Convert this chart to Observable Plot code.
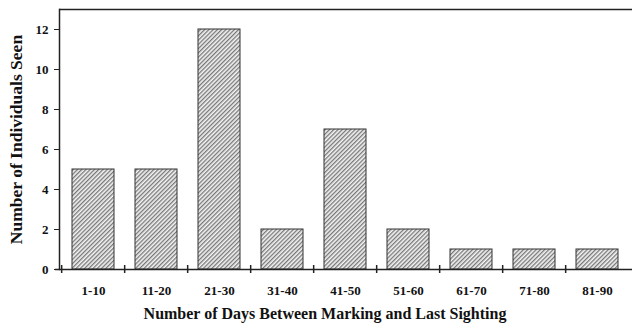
<!DOCTYPE html>
<html><head><meta charset="utf-8">
<script src="https://cdn.jsdelivr.net/npm/d3@7"></script>
<script src="https://cdn.jsdelivr.net/npm/@observablehq/plot@0.6"></script>
<style>body{margin:0;background:#fff}</style>
</head><body><div id="chart"></div>
<script>
const categories = ["1-10","11-20","21-30","31-40","41-50","51-60","61-70","71-80","81-90"];
const counts = [5,5,12,2,7,2,1,1,1];
const yTicks = [0,2,4,6,8,10,12];
const yTitle = "Number of Individuals Seen";
const xTitle = "Number of Days Between Marking and Last Sighting";

const data = categories.map((c,i)=>({cat:c, n:counts[i]}));
const W = 632, H = 324, ML = 59, MR = 0;
const step = (W - ML - MR) / categories.length;
const font = "'Liberation Serif', 'Times New Roman', serif";

const chart = Plot.plot({
  width: W, height: H,
  marginLeft: ML, marginRight: MR, marginTop: 9, marginBottom: 55,
  style: {fontFamily: font, color: "#111", background: "#fff"},
  x: {domain: categories, paddingInner: 0.33, paddingOuter: 0.165, axis: null},
  y: {domain: [0, 13], axis: null},
  marks: [
    Plot.barY(data, {x: "cat", y: "n", fill: "url(#hatch)", stroke: "#333", strokeWidth: 1}),
    Plot.ruleY([13], {stroke: "#222", strokeWidth: 1.5}),
    Plot.frame({anchor: "left", stroke: "#222", strokeWidth: 1.5}),
    Plot.ruleY([0], {stroke: "#222", strokeWidth: 1.5, insetLeft: -4}),
    Plot.ruleX(categories, {x: d => d, y1: 0, y2: 0, dx: -step/2, insetTop: -4, insetBottom: -4, stroke: "#222", strokeWidth: 1.5}),
    Plot.axisY(yTicks, {tickSize: 5, tickPadding: 6, fontSize: 13, fontWeight: "bold", label: null, stroke: "#222"}),
    Plot.axisX({tickSize: 0, tickPadding: 16, fontSize: 13, fontWeight: "bold", label: null}),
    Plot.text([yTitle], {frameAnchor: "left", textAnchor: "middle", lineAnchor: "middle", rotate: -90, dx: -43, fontSize: 17.5, fontWeight: "bold", text: d => d}),
    Plot.text([xTitle], {frameAnchor: "bottom", lineAnchor: "bottom", dy: 49, dx: -21, fontSize: 16, fontWeight: "bold", text: d => d})
  ]
});

const svg = d3.select(chart.tagName === "svg" ? chart : chart.querySelector("svg"));
const defs = svg.insert("defs", ":first-child");
const pat = defs.append("pattern").attr("id", "hatch")
  .attr("patternUnits", "userSpaceOnUse").attr("width", 3).attr("height", 3)
  .attr("patternTransform", "rotate(45)");
pat.append("rect").attr("width", 3).attr("height", 3).attr("fill", "#f4f4f4");
pat.append("line").attr("x1", 0.7).attr("y1", 0).attr("x2", 0.7).attr("y2", 3)
  .attr("stroke", "#6a6a6a").attr("stroke-width", 1.2);

document.getElementById("chart").appendChild(chart);
</script></body></html>
